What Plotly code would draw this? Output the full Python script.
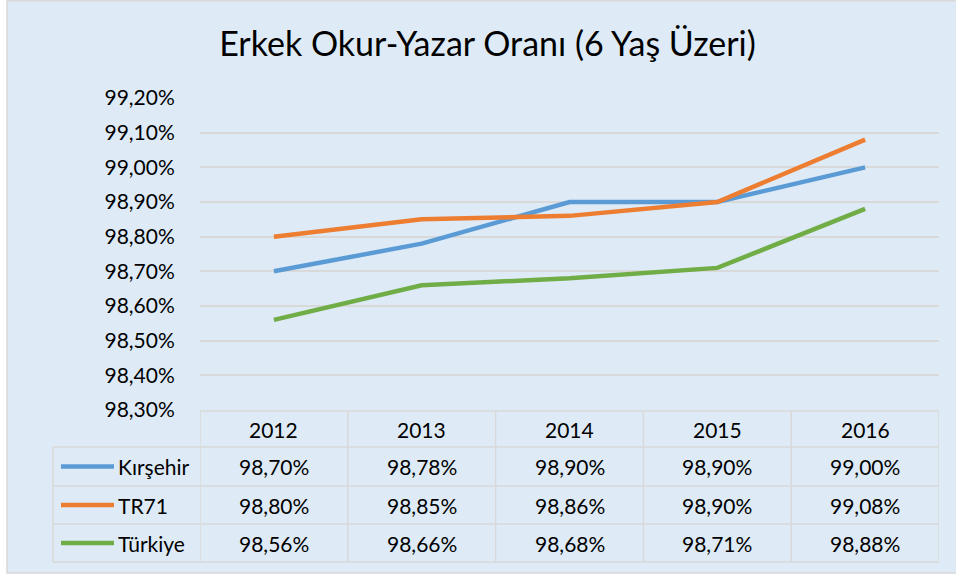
import plotly.graph_objects as go

years = ["2012", "2013", "2014", "2015", "2016"]
series_names = ["Kırşehir", "TR71", "Türkiye"]
kirsehir = [98.70, 98.78, 98.90, 98.90, 99.00]
tr71 = [98.80, 98.85, 98.86, 98.90, 99.08]
turkiye = [98.56, 98.66, 98.68, 98.71, 98.88]
colors = ["#5B9BD5", "#ED7D31", "#70AD47"]
values = [kirsehir, tr71, turkiye]

W, H = 956, 576
PL, PR, PT, PB = 200, 939, 98, 410  # plot area in pixels
FONT = "Lato"
GRID = "#D9D9D9"
BG = "#DEEBF7"
FS = 21


def py(p):
    return (PB - p) / (PB - PT)


def px(p):
    return (p - PL) / (PR - PL)


def fmt(v):
    return f"{v:.2f}".replace(".", ",") + "%"


fig = go.Figure()
for name, vals, c in zip(series_names, values, colors):
    fig.add_trace(go.Scatter(x=years, y=vals, name=name, mode="lines",
                             line=dict(color=c, width=4.5), showlegend=False))

shapes = []
annotations = []
# background with border
shapes.append(dict(type="rect", xref="paper", yref="paper", x0=px(7), x1=px(962),
                   y0=py(573), y1=py(0.7), fillcolor=BG, line=dict(color=GRID, width=1.5),
                   layer="below"))

row_tops = [411, 447, 486, 524, 562]
lw = 1.5
# horizontal table lines
shapes.append(dict(type="line", xref="x", yref="paper", x0=-0.5, x1=4.5,
                   y0=py(row_tops[0]), y1=py(row_tops[0]), line=dict(color=GRID, width=lw)))
for r in row_tops[1:]:
    shapes.append(dict(type="line", xref="paper", yref="paper", x0=px(53), x1=1,
                       y0=py(r), y1=py(r), line=dict(color=GRID, width=lw)))
# vertical lines
for i in range(len(years) + 1):
    shapes.append(dict(type="line", xref="x", yref="paper", x0=i - 0.5, x1=i - 0.5,
                       y0=py(row_tops[0]), y1=py(row_tops[-1]), line=dict(color=GRID, width=lw)))
shapes.append(dict(type="line", xref="paper", yref="paper", x0=px(53), x1=px(53),
                   y0=py(row_tops[1]), y1=py(row_tops[-1]), line=dict(color=GRID, width=lw)))

# header
hy = (row_tops[0] + row_tops[1]) / 2
for i, yr in enumerate(years):
    annotations.append(dict(x=i, y=py(hy), xref="x", yref="paper", text=yr, showarrow=False,
                            font=dict(family=FONT, size=FS, color="#000000"),
                            xanchor="center", yanchor="middle"))
# rows
for r, (name, vals, c) in enumerate(zip(series_names, values, colors)):
    cy = (row_tops[r + 1] + row_tops[r + 2]) / 2
    shapes.append(dict(type="line", xref="paper", yref="paper", x0=px(61), x1=px(114),
                       y0=py(cy), y1=py(cy), line=dict(color=c, width=4.5)))
    annotations.append(dict(x=px(116), y=py(cy), xref="paper", yref="paper", text=name,
                            showarrow=False, font=dict(family=FONT, size=FS, color="#000000"),
                            xanchor="left", yanchor="middle"))
    for i, v in enumerate(vals):
        annotations.append(dict(x=i, y=py(cy), xref="x", yref="paper", text=fmt(v),
                                showarrow=False, font=dict(family=FONT, size=FS, color="#000000"),
                                xanchor="center", yanchor="middle"))

fig.update_layout(
    width=W, height=H,
    margin=dict(l=PL, r=W - PR, t=PT, b=H - PB, pad=0),
    paper_bgcolor="#FFFFFF", plot_bgcolor="rgba(0,0,0,0)",
    separators=",.",
    title=dict(text="Erkek Okur-Yazar Oranı (6 Yaş Üzeri)", x=487.5 / W, xref="container",
               y=1 - 44 / H, yref="container", xanchor="center", yanchor="middle",
               font=dict(family=FONT, size=34, color="#000000")),
    xaxis=dict(range=[-0.5, 4.5], showticklabels=False, showgrid=False, zeroline=False,
               showline=False, ticks=""),
    yaxis=dict(range=[98.3, 99.2], dtick=0.1, tick0=98.3, tickformat=".2f", ticksuffix="%",
               showgrid=True, gridcolor=GRID, gridwidth=1.5, zeroline=False, showline=False,
               ticks="outside", ticklen=20, tickcolor="rgba(0,0,0,0)",
               tickfont=dict(family=FONT, size=FS, color="#000000")),
    shapes=shapes, annotations=annotations,
)

fig.write_html("out.html", config={"displayModeBar": False},
               post_script="document.body.style.margin='0';")
